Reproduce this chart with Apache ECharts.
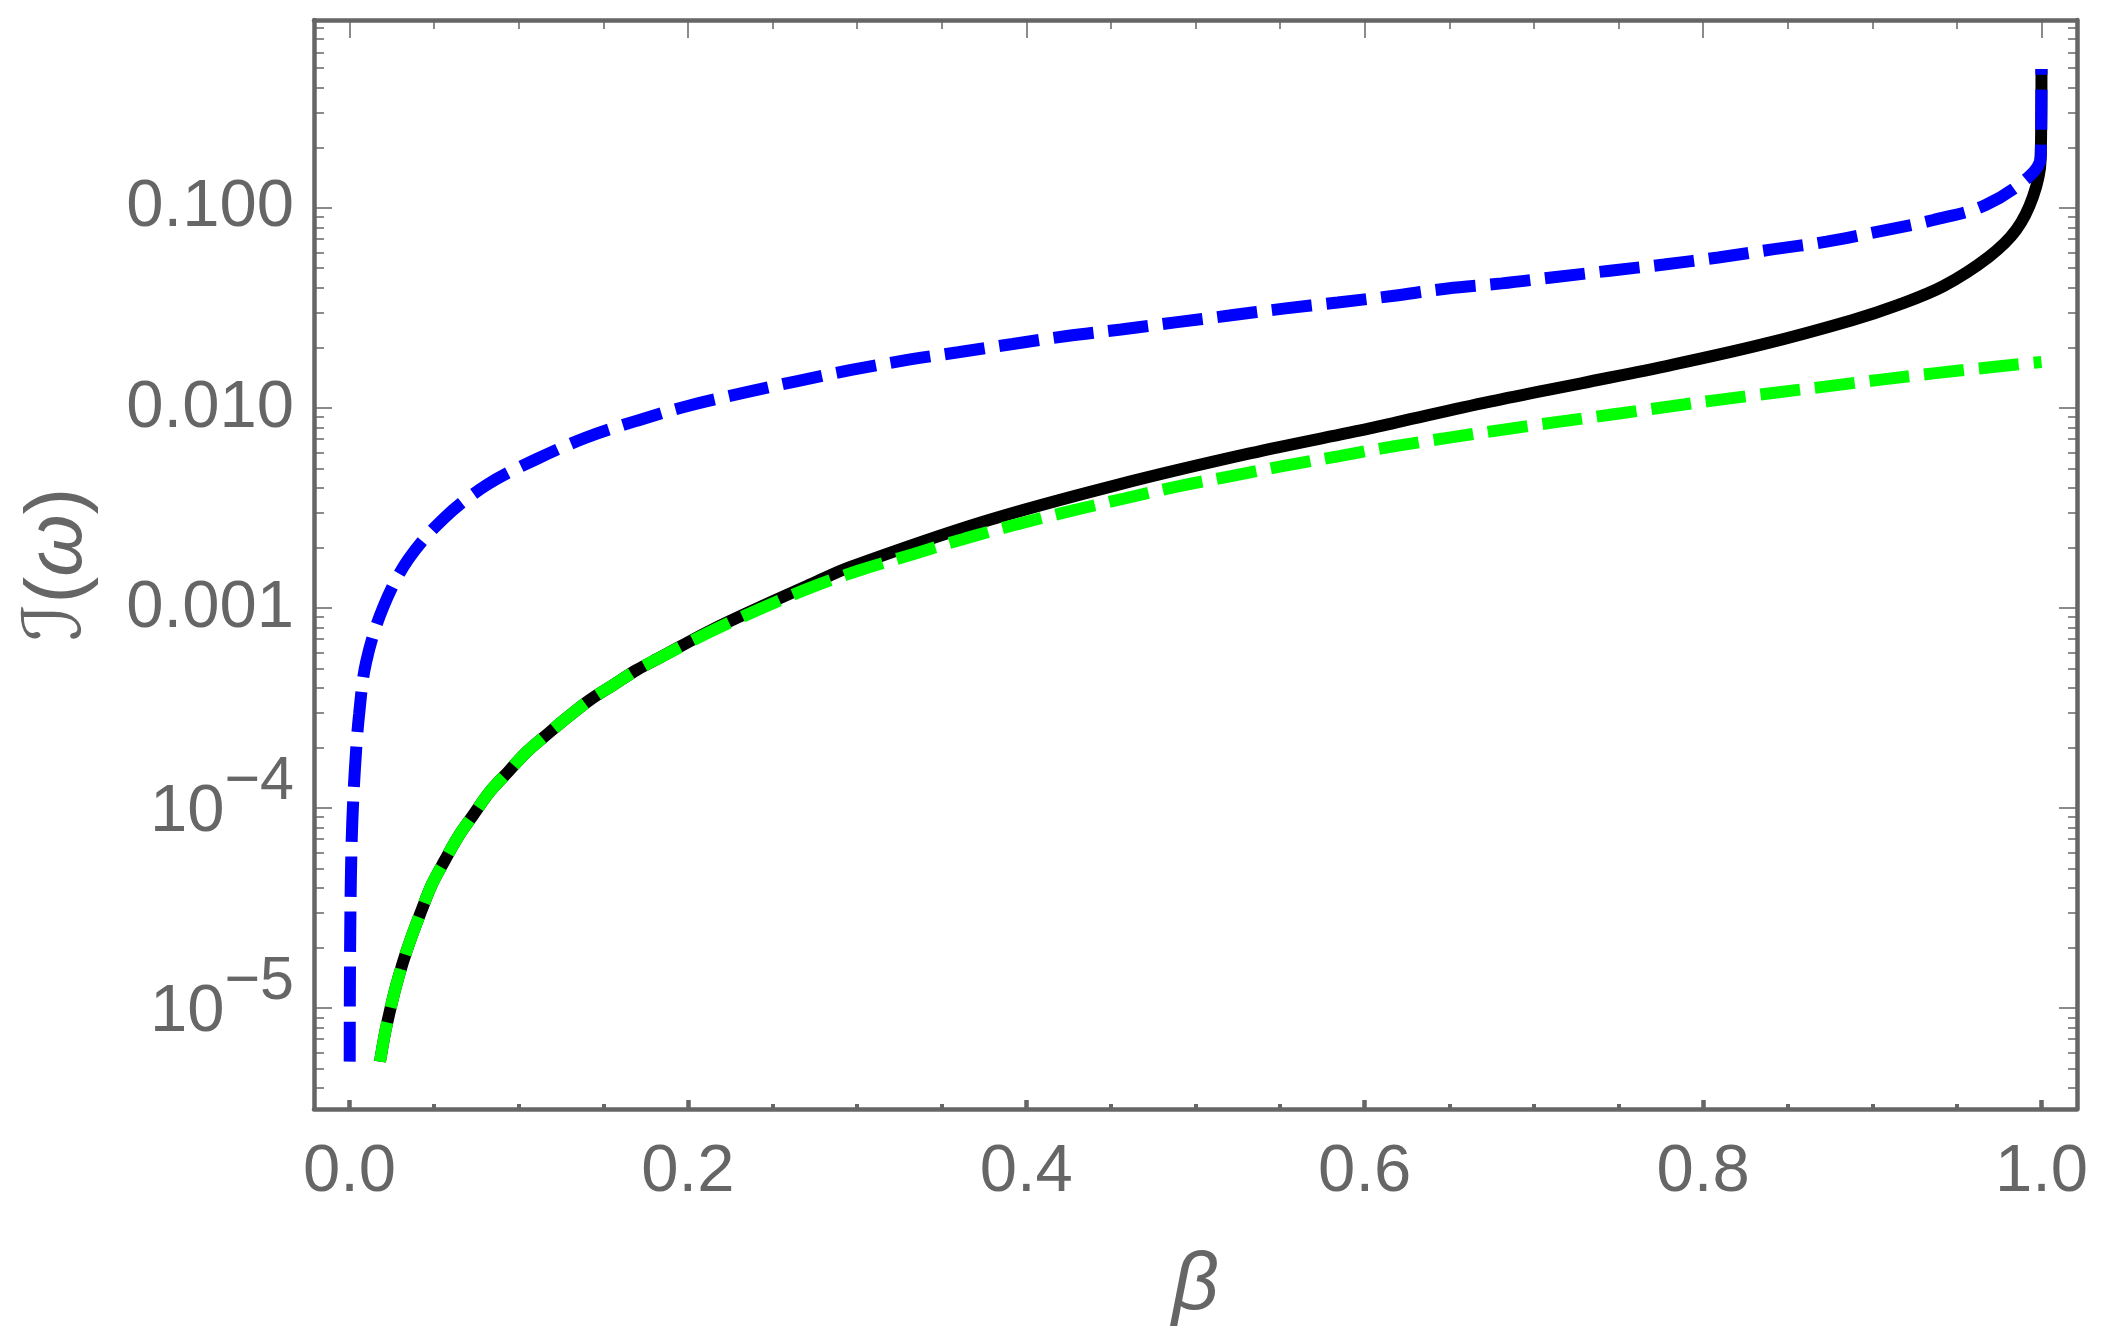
<!DOCTYPE html>
<html>
<head>
<meta charset="utf-8">
<script src="https://cdn.jsdelivr.net/npm/echarts@6/dist/echarts.min.js"></script>
<style>
  html, body { margin: 0; padding: 0; background: #fff; }
  #chart { width: 2110px; height: 1343px; }
</style>
</head>
<body>
<div id="chart"></div>
<script>
// values: [beta, I(omega)]
const blueCurve = [
  [0.0001, 5.40e-6], [0.0002, 1.20e-5], [0.0004, 2.29e-5], [0.0008, 4.47e-5],
  [0.0016, 8.38e-5], [0.0032, 1.58e-4], [0.0057, 2.97e-4], [0.0098, 5.37e-4],
  [0.0199, 1.01e-3], [0.0347, 1.75e-3], [0.0558, 2.81e-3], [0.081, 4.12e-3],
  [0.110, 5.53e-3], [0.1397, 7.11e-3], [0.170, 8.65e-3], [0.201, 1.03e-2],
  [0.2327, 1.19e-2], [0.264, 1.36e-2], [0.2966, 1.55e-2], [0.328, 1.73e-2],
  [0.3597, 1.90e-2], [0.392, 2.09e-2], [0.424, 2.29e-2], [0.456, 2.47e-2],
  [0.488, 2.68e-2], [0.520, 2.90e-2], [0.552, 3.14e-2], [0.584, 3.37e-2],
  [0.616, 3.63e-2], [0.649, 3.96e-2], [0.681, 4.20e-2], [0.713, 4.52e-2],
  [0.745, 4.86e-2], [0.777, 5.22e-2], [0.809, 5.66e-2], [0.841, 6.21e-2],
  [0.873, 6.79e-2], [0.905, 7.67e-2], [0.936, 8.71e-2], [0.967, 0.1035],
  [0.993, 0.1445], [0.9996, 0.181], [1.0, 0.495]
];

const blackCurve = [
  [0.018, 5.40e-6], [0.0209, 7.46e-6], [0.0233, 9.23e-6], [0.0274, 1.28e-5],
  [0.0317, 1.71e-5], [0.0367, 2.28e-5], [0.0426, 3.09e-5], [0.0485, 4.12e-5],
  [0.0564, 5.50e-5], [0.0642, 7.19e-5], [0.0731, 9.23e-5], [0.083, 1.21e-4],
  [0.0938, 1.52e-4], [0.1047, 1.91e-4], [0.1174, 2.36e-4], [0.1292, 2.86e-4],
  [0.142, 3.47e-4], [0.1558, 4.12e-4], [0.1697, 4.90e-4], [0.1834, 5.65e-4],
  [0.213, 7.7e-4], [0.2425, 1.01e-3], [0.274, 1.33e-3], [0.2957, 1.60e-3],
  [0.3745, 2.70e-3], [0.4533, 4.12e-3], [0.532, 5.93e-3], [0.603, 7.91e-3],
  [0.6207, 8.55e-3], [0.674, 1.076e-2], [0.728, 1.33e-2], [0.781, 1.64e-2],
  [0.835, 2.08e-2], [0.888, 2.75e-2], [0.915, 3.27e-2], [0.942, 4.07e-2],
  [0.969, 5.71e-2], [0.985, 7.76e-2], [0.995, 0.114], [0.9995, 0.174],
  [1.0, 0.495]
];

const greenCurve = [
  [0.018, 5.40e-6], [0.0209, 7.46e-6], [0.0233, 9.23e-6], [0.0274, 1.28e-5],
  [0.0317, 1.71e-5], [0.0367, 2.28e-5], [0.0426, 3.09e-5], [0.0485, 4.12e-5],
  [0.0564, 5.50e-5], [0.0642, 7.19e-5], [0.0731, 9.23e-5], [0.083, 1.21e-4],
  [0.0938, 1.52e-4], [0.1047, 1.91e-4], [0.1174, 2.36e-4], [0.1292, 2.86e-4],
  [0.142, 3.47e-4], [0.1558, 4.12e-4], [0.1697, 4.90e-4], [0.1834, 5.65e-4],
  [0.213, 7.6e-4], [0.2425, 9.9e-4], [0.274, 1.28e-3], [0.301, 1.54e-3],
  [0.333, 1.86e-3], [0.364, 2.23e-3], [0.395, 2.63e-3], [0.427, 3.07e-3],
  [0.458, 3.53e-3], [0.489, 4.05e-3], [0.521, 4.57e-3], [0.553, 5.15e-3],
  [0.585, 5.75e-3], [0.616, 6.41e-3], [0.68, 7.76e-3], [0.744, 9.23e-3],
  [0.808, 1.096e-2], [0.872, 1.28e-2], [0.936, 1.49e-2], [1.0, 1.70e-2]
];

const xMajorTicks = [0, 0.2, 0.4, 0.6, 0.8, 1.0];
const xMinorTicks = [0.05, 0.1, 0.15, 0.25, 0.3, 0.35, 0.45, 0.5, 0.55,
  0.65, 0.7, 0.75, 0.85, 0.9, 0.95];
const yMajorTicks = [1e-5, 1e-4, 1e-3, 1e-2, 1e-1];
const yMinorTicks = [4e-6, 5e-6, 6e-6, 7e-6, 8e-6, 9e-6,
  2e-5, 3e-5, 4e-5, 5e-5, 6e-5, 7e-5, 8e-5, 9e-5,
  2e-4, 3e-4, 4e-4, 5e-4, 6e-4, 7e-4, 8e-4, 9e-4,
  2e-3, 3e-3, 4e-3, 5e-3, 6e-3, 7e-3, 8e-3, 9e-3,
  2e-2, 3e-2, 4e-2, 5e-2, 6e-2, 7e-2, 8e-2, 9e-2,
  0.2, 0.3, 0.4, 0.5, 0.6, 0.7, 0.8];

const X_MIN = -0.021, X_MAX = 1.021;
const Y_MIN = 3.13e-6, Y_MAX = 0.871;

const GRAY = '#666666';
const FONT = "'Liberation Sans', Arial, 'DejaVu Sans', sans-serif";

function yLabel(v) {
  if (v > 0.0009) return v.toFixed(3);
  const e = Math.round(Math.log10(v));
  return '{b|10}{s|\u2212' + (-e) + '}';
}

function xAxisDef(pos, ticks, len, w, extra) {
  return Object.assign({
    type: 'value', position: pos, min: X_MIN, max: X_MAX,
    axisLine: { show: false, onZero: false },
    axisTick: { show: true, inside: true, length: len, customValues: ticks,
      lineStyle: { color: GRAY, width: w } },
    axisLabel: { show: false },
    splitLine: { show: false }
  }, extra || {});
}

function yAxisDef(pos, ticks, len, w, extra) {
  return Object.assign({
    type: 'log', position: pos, min: Y_MIN, max: Y_MAX,
    axisLine: { show: false, onZero: false },
    axisTick: { show: true, inside: true, length: len, customValues: ticks,
      lineStyle: { color: GRAY, width: w } },
    axisLabel: { show: false },
    splitLine: { show: false }
  }, extra || {});
}

const chart = echarts.init(document.getElementById('chart'));
chart.setOption({
  backgroundColor: '#fff',
  animation: false,
  grid: { left: 314, right: 33, top: 20, bottom: 234, containLabel: false },
  xAxis: [
    xAxisDef('bottom', xMajorTicks, 9, 4.5, {
      axisLine: { show: true, onZero: false, lineStyle: { color: GRAY, width: 4.5 } },
      axisLabel: {
        show: true, customValues: xMajorTicks, margin: 30,
        fontSize: 67, color: GRAY, fontFamily: FONT,
        formatter: v => v.toFixed(1)
      },
      name: '\u03b2', nameLocation: 'middle', nameGap: 136,
      nameTextStyle: { fontSize: 82, fontStyle: 'italic', color: GRAY, fontFamily: FONT }
    }),
    xAxisDef('bottom', xMinorTicks, 5, 4),
    xAxisDef('top', xMajorTicks, 18, 1.5, {
      axisLine: { show: true, onZero: false, lineStyle: { color: GRAY, width: 4.5 } }
    }),
    xAxisDef('top', xMinorTicks, 9, 1.5)
  ],
  yAxis: [
    yAxisDef('left', yMajorTicks, 18, 1.5, {
      axisLine: { show: true, onZero: false, lineStyle: { color: GRAY, width: 4.5 } },
      axisLabel: {
        show: true, customValues: yMajorTicks, margin: 20,
        fontSize: 67, color: GRAY, fontFamily: FONT,
        formatter: yLabel,
        rich: {
          b: { fontSize: 67, color: GRAY, fontFamily: FONT, padding: [8, 0, 0, 0] },
          s: { fontSize: 61, color: GRAY, fontFamily: FONT, padding: [0, 0, 52, 0] }
        }
      },
      name: '{i|\u2110}({w|\u03c9})', nameLocation: 'middle', nameGap: 215,
      nameTextStyle: {
        fontSize: 80, color: GRAY, fontFamily: FONT,
        rich: {
          i: { fontSize: 80, color: GRAY, fontFamily: "'DejaVu Sans', sans-serif", fontStyle: 'italic' },
          w: { fontSize: 80, color: GRAY, fontFamily: FONT, fontStyle: 'italic' }
        }
      }
    }),
    yAxisDef('left', yMinorTicks, 10, 1.5),
    yAxisDef('right', yMajorTicks, 18, 1.5, {
      axisLine: { show: true, onZero: false, lineStyle: { color: GRAY, width: 4.5 } }
    }),
    yAxisDef('right', yMinorTicks, 9, 1.5)
  ],
  series: [
    {
      name: 'exact', type: 'line', data: blackCurve, smooth: 0.35,
      xAxisIndex: 0, yAxisIndex: 0, showSymbol: false, symbol: 'none',
      lineStyle: { color: '#000000', width: 12 }
    },
    {
      name: 'low', type: 'line', data: greenCurve, smooth: 0.35,
      xAxisIndex: 0, yAxisIndex: 0, showSymbol: false, symbol: 'none',
      lineStyle: { color: '#00ff00', width: 12, type: [40, 15] }
    },
    {
      name: 'upper', type: 'line', data: blueCurve, smooth: 0.35,
      xAxisIndex: 0, yAxisIndex: 0, showSymbol: false, symbol: 'none',
      lineStyle: { color: '#0000ff', width: 12, type: [40, 15] }
    }
  ]
});
</script>
</body>
</html>
